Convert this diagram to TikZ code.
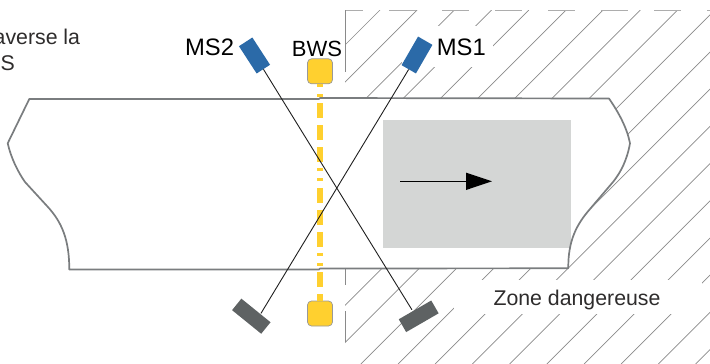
\documentclass[tikz,border=0pt]{standalone}
\usepackage{fontspec}
\setmainfont{Liberation Sans}
\usetikzlibrary{arrows.meta}
\definecolor{sensorblue}{HTML}{2B6AA8}
\definecolor{sensorgrey}{HTML}{5E6263}
\definecolor{beamyellow}{HTML}{FFD02F}
\definecolor{bandgrey}{HTML}{7A7D7F}
\definecolor{zonegrey}{HTML}{D4D6D5}
\definecolor{hatchgrey}{HTML}{8A8A8A}
\definecolor{txtdark}{HTML}{2E2C2C}
\tikzset{
  emitter/.style={draw=none,fill=sensorblue,inner sep=0pt,minimum width=32.5pt,minimum height=16pt},
  receiver/.style={draw=none,fill=sensorgrey,inner sep=0pt,minimum width=37.5pt,minimum height=14.8pt},
  bwsbox/.style={draw=gray!80,line width=0.7pt,fill=beamyellow,rounded corners=4pt,inner sep=0pt,minimum size=25pt},
  beam/.style={draw=black!88,line width=0.9pt},
  hatchline/.style={draw=hatchgrey,line width=0.7pt},
  zoneedge/.style={draw=hatchgrey,line width=1pt},
  bandline/.style={draw=bandgrey,line width=1.7pt},
  lab/.style={inner sep=0pt,text=black,font=\fontsize{23.8}{23.8}\selectfont},
  darklab/.style={inner sep=0pt,text=txtdark,font=\fontsize{21.3}{21.3}\selectfont},
  mask/.style={fill=white,draw=none}
}
\newcommand{\bandoutline}{
  (29.3,99) -- (319,99) -- (320,98) -- (609,98.5)
  .. controls (619,113) and (627,128) .. (630,143.3)
  .. controls (627,160) and (621,172) .. (613,182)
  -- (590,209)
  .. controls (577,224) and (568,240) .. (568.3,268.3)
  -- (320,268.5) -- (319,269.5) -- (69.3,269.5)
  .. controls (69.3,240) and (62,222) .. (47,206)
  -- (25,182)
  .. controls (18,172) and (11,158) .. (7.7,143.3)
  -- cycle}
\begin{document}
\begin{tikzpicture}[x=1pt,y=-1pt]
\useasboundingbox (0,0) rectangle (710,364);
\begin{scope}
\clip (0,0) rectangle (710,364);
% hatching of the dangerous zone
\begin{scope}
\clip (345,10) rectangle (710,364);
\foreach \k in {0,...,19} {
  \pgfmathsetmacro{\c}{390+37.2*\k}
  \draw[hatchline] (\c-10,10) -- (\c-364,364);
}
\end{scope}
\draw[draw=black!32,line width=1pt,dash pattern=on 26.7pt off 26.3pt,dash phase=8.7pt] (345,10) -- (710,10);
\draw[zoneedge] (345,10) -- (345,71.5);
\draw[zoneedge] (345,269) -- (345,285);
\draw[zoneedge] (345,311) -- (345,342);
% label masks
\fill[mask] (402,26) rectangle (493,66.7);
\fill[mask] (454,279.7) rectangle (702,314.3);
% conveyor band
\fill[white] \bandoutline;
\fill[zonegrey] (383,120.3) rectangle (570.7,247.7);
\draw[bandline,line join=round] \bandoutline;
% arrow
\coordinate (arrowstart) at (400,181.3);
\coordinate (arrowend) at (492,181.3);
\draw[line width=1.5pt,-{Triangle[length=26pt,width=17pt]}] (arrowstart) -- (arrowend);
% BWS
\node[bwsbox] (bwstop) at (320,71.3) {};
\node[bwsbox] (bwsbot) at (320,313.5) {};
\draw[beamyellow,line width=5.6pt,dash pattern=on 3pt off 7pt on 3pt off 6.3pt on 15pt off 7pt on 15pt off 7pt on 15pt off 6pt]
  (bwstop.south) -- (bwsbot.north);
% sensors
\node[emitter,rotate=-57] (ms2) at (254.5,55.5) {};
\node[emitter,rotate=60,minimum width=33pt,minimum height=16.6pt] (ms1) at (417,55) {};
\node[receiver,rotate=30] (rx2) at (418.7,316.3) {};
\node[receiver,rotate=-39] (rx1) at (251.3,316.2) {};
\draw[beam] (ms2.east) -- ([xshift=-3pt]rx2.north);
\draw[beam] (ms1.west) -- ([xshift=4.8pt,yshift=-3.2pt]rx1.north);
% labels
\node[lab,anchor=base east] (lms2) at (234.3,55) {MS2};
\node[lab,anchor=base west] (lms1) at (436.7,55) {MS1};
\node[lab,anchor=base,font=\fontsize{22}{22}\selectfont] (lbws) at (317,56.7) {BWS};
\node[darklab,anchor=base west] (lzone) at (493.3,305.3) {Zone dangereuse};
\node[darklab,anchor=base east] (ltop) at (80.3,45) {averse la};
\node[darklab,anchor=base east] (ltopb) at (15,70.7) {S};
\end{scope}
\end{tikzpicture}
\end{document}
